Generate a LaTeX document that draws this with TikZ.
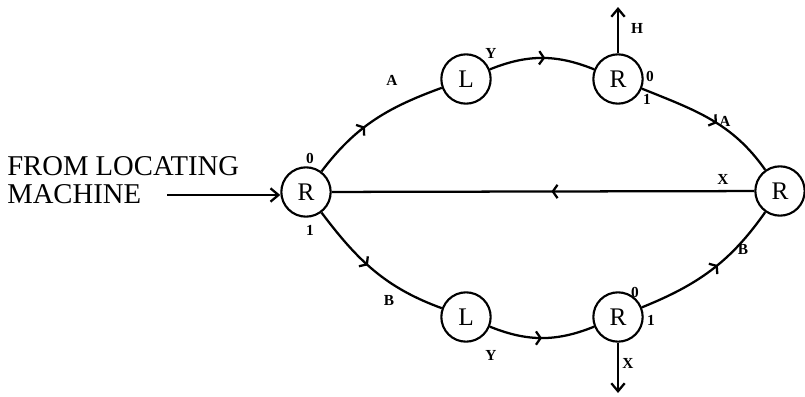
\documentclass[tikz,border=0pt]{standalone}
\usepackage{fontspec}
\setmainfont{Liberation Serif}
\usetikzlibrary{arrows.meta,decorations.markings}
\tikzset{
  ctlunit/.style={
    circle,
    draw,
    line width=1.6pt,
    minimum size=37pt,
    inner sep=0pt,
    font=\fontsize{19}{19}\selectfont
  },
  ctltag/.style={font=\fontsize{11.5}{12}\selectfont\bfseries,inner sep=0.5pt},
  ctlwire/.style={line width=1.7pt},
  ctlarc/.style={ctlwire,
    decoration={markings,
      mark=at position #1 with {\arrow{Straight Barb[length=3.5pt,width=10pt]}}},
    postaction={decorate}},
  ctlarc/.default=0.5,
  ctlout/.style={ctlwire,-{Straight Barb[length=6pt,width=10pt]}},
  ctlsource/.style={font=\fontsize{21.5}{21}\selectfont,align=left,inner sep=0pt}
}
\begin{document}
\begin{tikzpicture}[x=0.75pt,y=-0.75pt]
  \useasboundingbox (0,0) rectangle (805,396);

  % relay and locating units
  \node[ctlunit] (lR) at (306,192) {R};
  \node[ctlunit] (tL) at (466,79)  {L};
  \node[ctlunit] (tR) at (618,79)  {R};
  \node[ctlunit] (rR) at (780,191) {R};
  \node[ctlunit] (bL) at (466,317) {L};
  \node[ctlunit] (bR) at (618,317) {R};

  \node[ctlsource,anchor=north west] (src) at (7,156)
    {FROM LOCATING\\MACHINE};
  \coordinate (srcEnd) at (167,195);
  \coordinate (hEnd) at (618,7);
  \coordinate (xEnd) at (618,393);

  % connections
  \draw[ctlout] (srcEnd) -- (srcEnd -| lR.west);
  \draw[ctlarc=0.42] (lR) to[out=53,in=200] (tL);
  \draw[ctlarc=0.53] (tL) to[out=22,in=158] (tR);
  \draw[ctlarc=0.55] (tR) to[out=-22,in=125] (rR);
  \draw[ctlarc=0.45] (lR) to[out=-53,in=160] (bL);
  \draw[ctlarc=0.5]  (bL) to[out=-22,in=202] (bR);
  \draw[ctlarc=0.55] (bR) to[out=22,in=235] (rR);
  \draw[ctlarc=0.48] (rR) -- (lR);
  \draw[ctlout] (tR) -- (hEnd);
  \draw[ctlout] (bR) -- (xEnd);

  % wire labels
  \node[ctltag] (lR0) at (310,158) {0};
  \node[ctltag] (lR1) at (310,230) {1};
  \node[ctltag] (wA1) at (392,80)  {A};
  \node[ctltag] (wY1) at (491,53)  {Y};
  \node[ctltag] (tR0) at (650,76)  {0};
  \node[ctltag] (tR1) at (647,99)  {1};
  \node[ctltag] (wH)  at (637,28)  {H};
  \node[ctltag] (wA2) at (725,121) {A};
  \node[ctltag] (wX1) at (723,179) {X};
  \node[ctltag] (wB2) at (743,249) {B};
  \node[ctltag] (wB1) at (389,300) {B};
  \node[ctltag] (wY2) at (491,355) {Y};
  \node[ctltag] (bR0) at (635,292) {0};
  \node[ctltag] (bR1) at (651,320) {1};
  \node[ctltag] (wX2) at (628,363) {X};
\end{tikzpicture}
\end{document}
